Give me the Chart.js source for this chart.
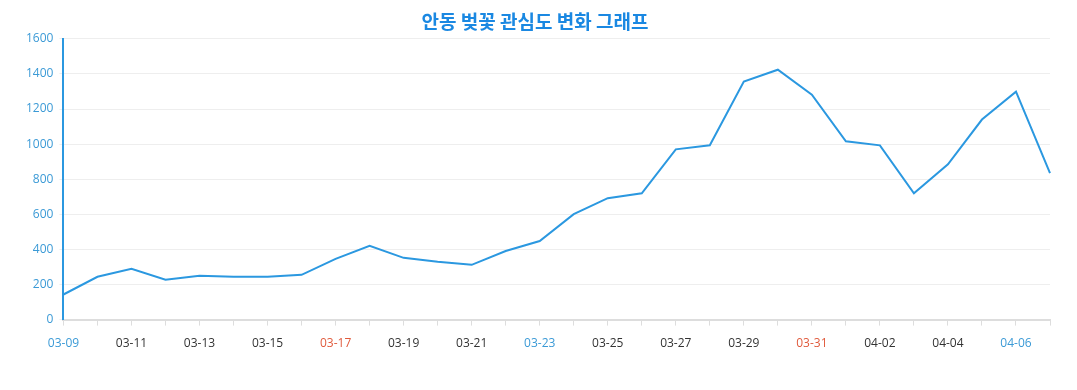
<!DOCTYPE html>
<html>
<head>
<meta charset="utf-8">
<script src="https://cdn.jsdelivr.net/npm/chart.js@4.4.1/dist/chart.umd.min.js"></script>
<style>
html,body{margin:0;padding:0;background:#fff;}
#wrap{width:1077px;height:390px;}
</style>
</head>
<body>
<div id="wrap"><canvas id="c" width="1077" height="390"></canvas></div>
<script>
const chartTitle = '안동 벚꽃 관심도 변화 그래프';
const dates = ['03-09','03-10','03-11','03-12','03-13','03-14','03-15','03-16','03-17','03-18',
  '03-19','03-20','03-21','03-22','03-23','03-24','03-25','03-26','03-27','03-28',
  '03-29','03-30','03-31','04-01','04-02','04-03','04-04','04-05','04-06','04-07'];
const interest = [143,244,289,227,250,244,244,255,346,420,
  352,329,312,391,448,601,692,720,970,993,
  1356,1424,1282,1016,993,720,885,1140,1299,834];
const saturdays = ['03-09','03-16','03-23','03-30','04-06'];
const sundays = ['03-10','03-17','03-24','03-31','04-07'];

const BLUE = '#2b98e0';
const TICKBLUE = '#3b9ad6';
const RED = '#e05a3c';

new Chart(document.getElementById('c'), {
  type: 'line',
  data: {
    labels: dates,
    datasets: [{
      data: interest,
      borderColor: BLUE,
      borderWidth: 2,
      pointRadius: 0,
      tension: 0,
      fill: false
    }]
  },
  options: {
    responsive: false,
    animation: false,
    layout: { padding: { left: 20, right: 27, top: 0, bottom: 28 } },
    plugins: {
      legend: { display: false },
      tooltip: { enabled: false },
      title: {
        display: true,
        text: chartTitle,
        color: '#1a88e2',
        font: { family: '"Noto Sans CJK KR", "Noto Sans", sans-serif', size: 19, weight: 'bold' },
        padding: { top: 10, bottom: 6 }
      }
    },
    scales: {
      x: {
        grid: { display: true, drawOnChartArea: false, drawTicks: true, tickLength: 6, color: '#dddddd' },
        border: { display: true, color: '#dddddd', width: 2 },
        ticks: {
          autoSkip: false,
          maxRotation: 0,
          padding: 11,
          font: { family: '"Open Sans", sans-serif', size: 12 },
          callback: function(v, i) { return i % 2 === 0 ? dates[i] : ''; },
          color: function(ctx) {
            const l = dates[ctx.index];
            if (saturdays.includes(l)) return TICKBLUE;
            if (sundays.includes(l)) return RED;
            return '#333333';
          }
        }
      },
      y: {
        min: 0, max: 1600,
        ticks: { stepSize: 200, color: TICKBLUE, padding: 6, font: { family: '"Open Sans", sans-serif', size: 12 },
          callback: function(v) { return String(v); } },
        grid: { color: '#eeeeee', tickLength: 4, drawTicks: true },
        border: { display: true, color: BLUE, width: 2 }
      }
    }
  }
});
</script>
</body>
</html>
